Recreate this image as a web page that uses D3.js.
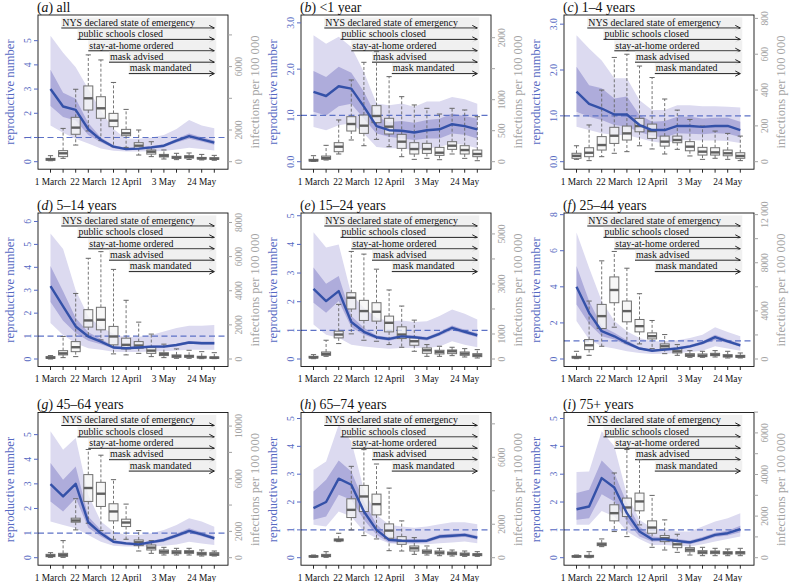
<!DOCTYPE html>
<html><head><meta charset="utf-8">
<script src="https://cdn.jsdelivr.net/npm/d3@7"></script>
</head><body style="margin:0">
<svg id="c" width="793" height="582"></svg>
<script>
// ---------- data ----------
const panelLetters = ["a","b","c","d","e","f","g","h","i"];
const panelNames = ["all","<1 year","1–4 years","5–14 years","15–24 years","25–44 years","45–64 years","65–74 years","75+ years"];
const weekDays = [0,7,14,21,28,35,42,49,56,63,70,77,84,91];
const xTickDays = [0,7,14,21,28,35,42,49,56,63,70,77,84,91];
const xLabelDays = [0,21,42,63,84];
const xLabels = ["1 March","22 March","12 April","3 May","24 May"];
const eventNames = ["NYS declared state of emergency","public schools closed","stay-at-home ordered","mask advised","mask mandated"];
const eventDays = [6,15,21,32.5,43.5];
const eventEndDay = 91;

const rTicks = [[0,1,2,3,4,5],[0,1,2,3],[0,1,2,3],[0,1,2,3,4,5,6],[0,1,2,3,4,5],[0,2,4,6,8],[0,1,2,3,4,5],[0,1,2,3,4,5],[0,1,2,3,4,5]];
const rDecimals = [0,1,1,0,0,0,0,0,0];
const rTop = [6.06,3.17,3.2,6.4,5.12,8.13,5.96,5.27,5.27];
const infTicks = [[0,2000,4000,6000,8000],[0,500,1000,1500,2000],[0,200,400,600,800],[0,2000,4000,6000,8000],[0,1000,2000,3000,4000,5000],[0,2000,4000,6000,8000,10000,12000],[0,2000,4000,6000,8000,10000],[0,2000,4000,6000,8000],[0,1000,2000,3000,4000,5000,6000,7000]];
const infLabelVals = [[0,2000,6000],[0,500,1000,2000],[0,200,400,600,800],[0,2000,4000,6000,8000],[0,1000,3000,5000],[0,4000,8000,12000],[0,2000,6000,10000],[0,2000,6000],[0,2000,4000,6000]];
const infLabelText = [["0","2000","6000"],["0","500","1000","2000"],["0","200","400","600","800"],["0","2000","4000","6000","8000"],["0","1000","3000","5000"],["0","4000","8000","12 000"],["0","2000","6000","10000"],["0","2000","6000"],["0","2000","4000","6000"]];
const infTop = [9256,2366,819,8596,5865,12192,11145,8768,7053];

const rMedian = [
 [3.0,2.28,2.14,1.34,0.9,0.62,0.52,0.54,0.59,0.66,0.87,1.06,0.92,0.79],
 [1.51,1.42,1.63,1.58,1.19,0.77,0.68,0.67,0.63,0.68,0.7,0.81,0.77,0.70],
 [1.53,1.26,1.16,1.03,1.03,0.8,0.69,0.69,0.78,0.78,0.76,0.78,0.78,0.69],
 [3.18,2.3,1.42,0.98,0.76,0.5,0.47,0.5,0.54,0.54,0.61,0.72,0.69,0.69],
 [2.45,2.02,2.37,1.29,0.95,0.76,0.7,0.79,0.76,0.71,0.88,1.09,0.95,0.83],
 [4.0,2.56,1.54,1.26,0.89,0.58,0.46,0.52,0.58,0.7,0.89,1.21,0.98,0.76],
 [2.99,2.49,3.0,1.44,0.99,0.65,0.58,0.54,0.63,0.72,0.9,1.09,0.95,0.79],
 [1.78,2.0,2.84,2.62,1.66,1.0,0.64,0.61,0.6,0.61,0.76,0.79,0.82,0.72],
 [1.74,1.84,2.86,2.52,1.6,0.94,0.66,0.66,0.6,0.55,0.67,0.82,0.88,1.03]];
const rInnerHi = [
 [3.8,2.85,2.6,1.6,1.0,0.68,0.58,0.6,0.65,0.72,0.95,1.17,1.01,0.88],
 [1.96,1.83,2.05,1.92,1.51,0.97,0.86,0.88,0.84,0.9,0.93,1.04,0.99,0.93],
 [2.07,1.67,1.6,1.38,1.42,1.02,0.87,0.89,0.98,0.98,0.94,0.96,0.96,0.87],
 [4.06,2.96,1.79,1.17,0.88,0.56,0.53,0.56,0.6,0.6,0.67,0.79,0.76,0.76],
 [3.19,2.63,2.9,1.5,1.09,0.82,0.76,0.85,0.82,0.77,0.95,1.17,1.02,0.9],
 [5.16,3.21,1.82,1.45,1.04,0.65,0.52,0.58,0.65,0.78,0.98,1.35,1.08,0.85],
 [3.85,3.17,3.71,1.67,1.13,0.71,0.64,0.6,0.69,0.79,0.98,1.2,1.03,0.86],
 [2.38,2.8,3.49,3.1,2.02,1.2,0.76,0.67,0.66,0.67,0.83,0.86,0.89,0.79],
 [2.32,2.44,3.49,3.04,1.96,1.12,0.76,0.73,0.67,0.62,0.74,0.9,0.97,1.15]];
const rInnerLo = [
 [2.3,1.85,1.7,1.1,0.8,0.56,0.47,0.49,0.53,0.6,0.79,0.95,0.83,0.7],
 [1.08,1.0,1.2,1.25,0.93,0.61,0.54,0.5,0.47,0.5,0.5,0.61,0.58,0.5],
 [1.09,0.98,0.91,0.8,0.76,0.65,0.56,0.53,0.62,0.61,0.6,0.62,0.61,0.54],
 [2.49,1.67,1.13,0.8,0.64,0.45,0.42,0.45,0.49,0.49,0.56,0.66,0.63,0.63],
 [1.96,1.61,2.02,1.11,0.85,0.7,0.64,0.73,0.7,0.65,0.81,1.0,0.88,0.76],
 [3.02,1.95,1.26,1.08,0.76,0.52,0.41,0.46,0.52,0.63,0.8,1.05,0.88,0.68],
 [2.28,1.88,2.42,1.22,0.86,0.59,0.52,0.48,0.57,0.65,0.82,1.0,0.87,0.72],
 [1.36,1.48,2.26,2.08,1.36,0.82,0.55,0.55,0.54,0.55,0.69,0.72,0.75,0.65],
 [1.36,1.42,2.28,2.02,1.3,0.76,0.58,0.59,0.53,0.48,0.6,0.74,0.8,0.91]];
const rOuterHi = [
 [5.2,4.5,3.9,3.0,2.1,1.35,0.95,0.95,1.0,1.1,1.35,1.72,1.5,1.38],
 [2.73,2.55,2.7,2.48,1.94,1.26,1.22,1.26,1.19,1.3,1.3,1.4,1.35,1.25],
 [2.76,2.47,2.21,1.82,1.82,1.34,1.13,1.13,1.23,1.23,1.21,1.21,1.2,1.18],
 [5.48,4.8,3.0,1.85,1.4,1.1,0.95,0.97,1.05,1.2,1.35,1.45,1.45,1.48],
 [4.42,3.89,4.0,2.25,1.79,1.44,1.32,1.34,1.29,1.32,1.5,1.73,1.58,1.38],
 [7.01,5.06,3.21,2.1,1.54,1.17,0.98,0.98,1.04,1.17,1.35,1.76,1.5,1.26],
 [5.14,4.39,4.86,2.55,1.47,1.06,0.92,0.92,0.99,1.13,1.33,1.6,1.47,1.26],
 [3.16,3.46,4.78,4.18,2.44,1.54,1.18,1.12,1.08,1.12,1.2,1.27,1.27,1.2],
 [3.08,3.1,4.54,4.0,2.26,1.36,1.06,1.0,0.94,0.94,1.12,1.3,1.42,1.6]];
const rOuterLo = [
 [1.5,1.2,0.95,0.75,0.55,0.45,0.42,0.42,0.43,0.44,0.5,0.58,0.52,0.46],
 [0.75,0.68,0.79,0.83,0.61,0.32,0.29,0.29,0.25,0.29,0.32,0.4,0.36,0.29],
 [0.76,0.69,0.62,0.58,0.58,0.51,0.44,0.4,0.47,0.47,0.46,0.46,0.45,0.41],
 [1.57,1.05,0.69,0.47,0.4,0.32,0.3,0.31,0.33,0.34,0.37,0.4,0.4,0.4],
 [1.2,0.85,0.74,0.5,0.44,0.39,0.36,0.38,0.39,0.38,0.44,0.62,0.5,0.41],
 [2.1,1.08,0.7,0.58,0.43,0.33,0.28,0.29,0.33,0.39,0.46,0.7,0.58,0.46],
 [1.47,1.33,1.2,0.92,0.65,0.49,0.45,0.45,0.45,0.49,0.54,0.65,0.58,0.52],
 [1.18,1.12,1.66,1.48,0.94,0.7,0.52,0.48,0.48,0.48,0.52,0.55,0.58,0.52],
 [1.18,1.18,1.68,1.48,0.94,0.67,0.46,0.46,0.43,0.4,0.48,0.58,0.67,0.76]];
// infections per 100 000: [lower whisker, Q1, median, Q3, upper whisker] per week
const boxStats = [
 [[60,90,150,210,380],[210,320,530,700,2100],[1050,1730,2150,2800,4570],[1940,3260,4000,4780,6740],[1330,2740,3370,4100,6420],[950,2210,2590,3050,5000],[900,1640,1790,2040,3300],[420,840,1010,1200,2000],[320,480,630,740,1260],[170,300,380,460,740],[130,210,270,340,530],[140,230,300,380,550],[110,170,210,270,460],[90,150,190,250,400]],
 [[5,11,22,38,97],[27,38,59,91,264],[124,161,242,307,673],[350,495,608,726,1318],[258,457,581,753,1603],[360,630,737,904,1775],[242,447,565,700,1372],[81,215,323,441,1049],[38,124,204,307,915],[54,134,204,296,861],[32,102,145,231,769],[124,199,258,323,861],[54,124,188,258,834],[16,81,124,188,726]],
 [[13,19,33,47,89],[6,28,50,78,205],[28,65,93,140,400],[47,102,145,192,582],[56,121,158,199,600],[89,167,199,242,534],[71,130,171,210,470],[43,87,112,143,350],[69,106,121,143,288],[32,61,84,112,236],[13,37,56,80,199],[19,37,52,78,171],[13,33,47,65,158],[6,19,32,50,143]],
 [[0,40,80,140,200],[80,240,330,490,1320],[140,430,690,1020,3840],[1320,1870,2260,2890,5900],[1120,1710,2300,3030,6290],[300,830,1320,1910,5250],[240,590,830,1220,3440],[330,630,790,1020,2160],[140,330,490,670,1460],[80,200,280,370,870],[40,100,160,240,590],[40,100,160,220,510],[20,60,100,160,430],[20,40,80,120,370]],
 [[13,40,67,107,174],[107,147,201,281,750],[616,844,978,1112,2184],[1005,2000,2450,2650,4300],[750,1541,1916,2345,4194],[710,1514,1889,2251,3591],[576,1085,1447,1715,2760],[469,817,978,1286,2117],[308,549,710,844,1554],[107,228,348,442,576],[107,201,281,348,509],[134,214,308,362,469],[80,147,214,281,415],[40,94,147,214,375]],
 [[28,84,139,223,640],[306,780,1141,1615,4816],[1058,2533,3563,4538,8157],[2645,4677,5735,6821,8937],[1336,3090,3981,4816,7545],[1253,2255,2728,3285,5428],[863,1670,1893,2171,3202],[445,863,1058,1253,2032],[306,501,640,863,1197],[139,223,306,445,696],[139,195,278,418,640],[167,278,362,473,696],[84,167,250,362,640],[84,139,223,306,501]],
 [[25,76,153,255,382],[25,102,204,331,1298],[2112,2698,2825,3003,4479],[2621,4276,5294,6312,8220],[2061,3894,4861,5726,7788],[1400,2800,3512,4098,5930],[1400,2367,2672,2927,4072],[509,916,1171,1349,2061],[331,585,764,967,1298],[204,331,458,585,789],[204,305,407,534,713],[204,331,433,534,713],[127,204,305,407,585],[127,178,255,382,509]],
 [[20,40,80,120,160],[20,60,120,200,360],[960,1000,1060,1120,1460],[1660,2400,2860,3520,5460],[1320,2760,3660,4320,6460],[1120,2560,3200,3800,5600],[420,1160,1620,2020,4160],[400,800,1000,1260,2200],[200,400,560,700,1200],[160,260,360,460,700],[120,220,300,400,560],[100,180,260,340,460],[80,140,200,280,400],[80,120,180,240,360]],
 [[16,32,64,97,129],[0,32,64,113,290],[531,580,644,708,902],[1256,1771,2141,2544,4073],[1014,1980,2415,2866,5200],[1578,2254,2705,3107,4717],[499,1175,1449,1771,2995],[370,773,934,1063,1819],[258,483,644,773,1127],[129,290,386,483,773],[97,193,258,338,499],[97,193,258,322,451],[97,177,225,290,419],[97,177,242,290,451]]];

// ---------- layout ----------
const colLeft = [38, 301, 564];
const rowTop = [15, 213, 412.5];
const rowZero = [161.7, 359, 557.7];
const plotW = 190;
const C = {line:"#3451a8", inner:"#a6a3d7", outer:"#dcdaf0", blue:"#5669c2", gray:"#a3a3a3", dash:"#5d72c6"};

const svg = d3.select("#c");
const txt = sel => sel.append("text").style("font-family", "'Liberation Serif'");

panelLetters.forEach((letter, p) => {
  const row = Math.floor(p / 3);
  const L = colLeft[p % 3], T = rowTop[row], Z = rowZero[row], R = L + plotW, B = Z + 7.5;
  const x = d3.scaleLinear().domain([0, 91]).range([L + 12.5, L + 12.5 + 163.8]);
  const yR = d3.scaleLinear().domain([0, rTop[p]]).range([Z, Z - 146.7]);
  const yI = d3.scaleLinear().domain([0, infTop[p]]).range([Z, Z - 146.7]);
  const g = svg.append("g");

  // bands
  const area = (lo, hi) => d3.area().x((d, j) => x(weekDays[j])).y0((d, j) => yR(lo[j])).y1((d, j) => yR(hi[j]));
  g.append("path").datum(weekDays).attr("d", area(rOuterLo[p], rOuterHi[p])).attr("fill", C.outer);
  g.append("path").datum(weekDays).attr("d", area(rInnerLo[p], rInnerHi[p])).attr("fill", C.inner).attr("fill-opacity", 0.85);

  // annotations
  eventNames.forEach((name, k) => {
    const ay = T + 13 + k * 11.4;
    const x0 = x(eventDays[k]), x1 = x(eventEndDay);
    g.append("rect").attr("x", x0).attr("y", ay - 10.6).attr("width", x1 + 2 - x0).attr("height", 10.6)
      .attr("fill", "#efefef").attr("fill-opacity", 0.92);
    txt(g).attr("x", x0 + 1).attr("y", ay - 2.3).attr("font-size", 9.9).attr("fill", "#111").text(name);
    g.append("line").attr("x1", x0).attr("x2", x1).attr("y1", ay).attr("y2", ay).attr("stroke", "#222").attr("stroke-width", 1);
    g.append("path").attr("d", `M${x1 - 5},${ay - 2.6}L${x1},${ay}L${x1 - 5},${ay + 2.6}`).attr("fill", "none").attr("stroke", "#222").attr("stroke-width", 1);
  });

  // reference line R = 1
  g.append("line").attr("x1", L).attr("x2", R).attr("y1", yR(1)).attr("y2", yR(1))
    .attr("stroke", C.dash).attr("stroke-width", 1.2).attr("stroke-dasharray", "6,3.5");

  // boxplots
  const bw = 9;
  boxStats[p].forEach((s, j) => {
    const cx = x(weekDays[j]);
    const [lo, q1, med, q3, hi] = s;
    g.append("line").attr("x1", cx).attr("x2", cx).attr("y1", yI(q3)).attr("y2", yI(hi)).attr("stroke", "#666").attr("stroke-dasharray", "3,2").attr("stroke-width", 0.9);
    g.append("line").attr("x1", cx).attr("x2", cx).attr("y1", yI(q1)).attr("y2", yI(lo)).attr("stroke", "#666").attr("stroke-dasharray", "3,2").attr("stroke-width", 0.9);
    g.append("line").attr("x1", cx - 2.6).attr("x2", cx + 2.6).attr("y1", yI(hi)).attr("y2", yI(hi)).attr("stroke", "#666");
    g.append("line").attr("x1", cx - 2.6).attr("x2", cx + 2.6).attr("y1", yI(lo)).attr("y2", yI(lo)).attr("stroke", "#666");
    g.append("rect").attr("x", cx - bw / 2).attr("y", yI(q3)).attr("width", bw).attr("height", Math.max(1, yI(q1) - yI(q3)))
      .attr("fill", "#f4f4f4").attr("fill-opacity", 0.75).attr("stroke", "#707070").attr("stroke-width", 1);
    g.append("line").attr("x1", cx - bw / 2).attr("x2", cx + bw / 2).attr("y1", yI(med)).attr("y2", yI(med)).attr("stroke", "#606060").attr("stroke-width", 2.4);
  });

  // median R line
  g.append("path").datum(rMedian[p]).attr("d", d3.line().x((d, j) => x(weekDays[j])).y(d => yR(d)))
    .attr("fill", "none").attr("stroke", C.line).attr("stroke-width", 2.4).attr("stroke-linejoin", "round");

  // frame
  g.append("rect").attr("x", L).attr("y", T).attr("width", plotW).attr("height", B - T).attr("fill", "none").attr("stroke", "#111").attr("stroke-width", 0.9);

  // x axis
  xTickDays.forEach(d => g.append("line").attr("x1", x(d)).attr("x2", x(d)).attr("y1", B).attr("y2", B + 3.5).attr("stroke", "#111").attr("stroke-width", 0.9));
  xLabelDays.forEach((d, k) => txt(g).attr("x", x(d)).attr("y", Z + 23).attr("text-anchor", "middle").attr("font-size", 9.4).attr("fill", "#111").text(xLabels[k]));

  // left axis
  rTicks[p].forEach(v => {
    g.append("line").attr("x1", L - 4).attr("x2", L).attr("y1", yR(v)).attr("y2", yR(v)).attr("stroke", C.blue);
    txt(g).attr("transform", `translate(${L - 7},${yR(v)}) rotate(-90)`).attr("text-anchor", "middle")
      .attr("font-size", 9.6).attr("fill", C.blue).text(v.toFixed(rDecimals[p]));
  });
  txt(g).attr("transform", `translate(${L - 24},${T + 77}) rotate(-90)`).attr("text-anchor", "middle")
    .attr("font-size", 12.6).attr("fill", C.blue).text("reproductive number");

  // right axis
  infTicks[p].forEach(v => {
    g.append("line").attr("x1", R).attr("x2", R + 4).attr("y1", yI(v)).attr("y2", yI(v)).attr("stroke", C.gray);
  });
  infLabelVals[p].forEach((v, k) => {
    txt(g).attr("transform", `translate(${R + 14},${yI(v)}) rotate(-90)`).attr("text-anchor", "middle")
      .attr("font-size", 9.6).attr("fill", C.gray).text(infLabelText[p][k]);
  });
  txt(g).attr("transform", `translate(${R + 31},${T + 77}) rotate(-90)`).attr("text-anchor", "middle")
    .attr("font-size", 12.6).attr("fill", C.gray).text("infections per 100 000");

  // title
  const t = txt(g).attr("x", L - 1).attr("y", T - 3.5).attr("font-size", 13.8).attr("fill", "#111");
  t.append("tspan").text("(");
  t.append("tspan").attr("font-style", "italic").text(letter);
  t.append("tspan").text(") " + panelNames[p]);
});
</script></body></html>
